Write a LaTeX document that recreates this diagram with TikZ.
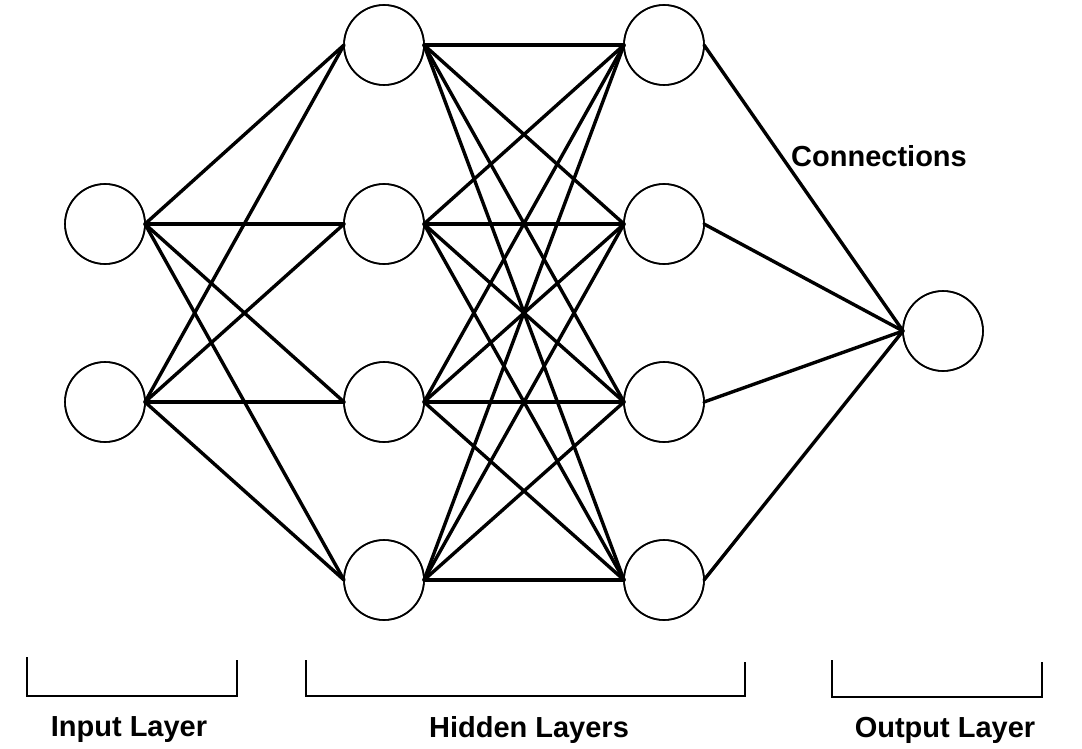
\documentclass[tikz,border=0pt]{standalone}
\usepackage{fontspec}
\setmainfont{Liberation Sans}
\begin{document}
\begin{tikzpicture}[x=1pt,y=-1pt,
  neuron/.style={circle,draw=black,line width=1.6pt,fill=white,minimum size=80pt,inner sep=0pt,outer sep=0pt},
  conn/.style={line width=3.4pt,black,line cap=round},
  brk/.style={line width=2.2pt,black},
  lbl/.style={font=\fontsize{29}{32}\selectfont\bfseries,anchor=base,inner sep=0pt}]
\useasboundingbox (0,0) rectangle (1082,749);
\fill[white] (0,0) rectangle (1082,749);
% nodes
\node[neuron] (i1) at (105,224) {};
\node[neuron] (i2) at (105,402) {};
\foreach \k/\y in {1/45,2/224,3/402,4/580}{
  \node[neuron] (a\k) at (384,\y) {};
  \node[neuron] (b\k) at (664,\y) {};
}
\node[neuron] (o) at (943,331) {};
% connections
\foreach \i in {1,2}{\foreach \j in {1,2,3,4}{\draw[conn] (i\i.east) -- (a\j.west);}}
\foreach \i in {1,2,3,4}{\foreach \j in {1,2,3,4}{\draw[conn] (a\i.east) -- (b\j.west);}}
\foreach \i in {1,2,3,4}{\draw[conn] (b\i.east) -- (o.west);}
% redraw node outlines on top
\foreach \n in {i1,i2,a1,a2,a3,a4,b1,b2,b3,b4,o}{\draw[line width=1.6pt] (\n.center) circle (40);}
% brackets
\draw[brk] (27,657) -- (27,696) -- (237,696) -- (237,660);
\draw[brk] (306,660) -- (306,696) -- (745,696) -- (745,662);
\draw[brk] (832,660) -- (832,697) -- (1042,697) -- (1042,662);
% labels
\node[lbl] (tin) at (129,736) {Input Layer};
\node[lbl] (thid) at (529,737) {Hidden Layers};
\node[lbl] (tout) at (945,737) {Output Layer};
\node[lbl] (tcon) at (879,167) {Connections};
\end{tikzpicture}
\end{document}
